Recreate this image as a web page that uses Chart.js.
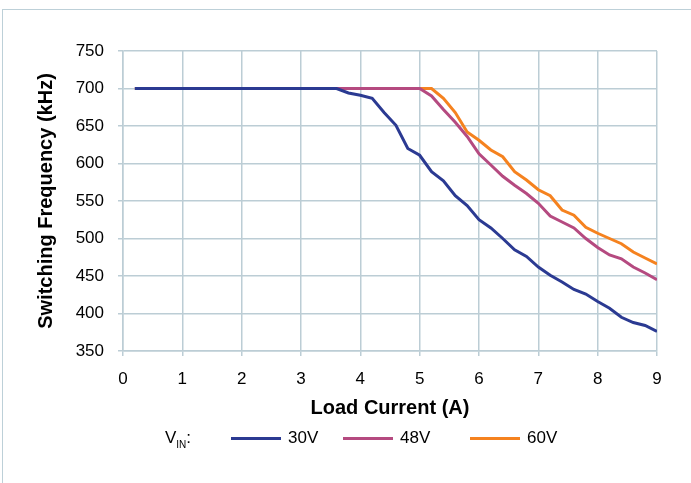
<!DOCTYPE html>
<html>
<head>
<meta charset="utf-8">
<script src="https://cdn.jsdelivr.net/npm/chart.js@4.4.1/dist/chart.umd.min.js"></script>
<style>
    html, body { margin: 0; padding: 0; background: #fff; overflow: hidden; }
    .frame { position: absolute; left: 2px; top: 9px; width: 720px; height: 520px; border: 1px solid #bdd0d8; box-sizing: border-box; }
    .chart-container { position: absolute; left: 0; top: 0; width: 691px; height: 483px; }
    .legend { position: absolute; left: 0; top: 427px; width: 691px; height: 22px; font-family: 'Liberation Sans', Arial, sans-serif; font-size: 17px; color: #000; }
    .legend span { position: absolute; top: 0; line-height: 22px; white-space: nowrap; }
    .legend i { position: absolute; top: 10px; height: 3px; width: 50px; }
    .legend sub { font-size: 10px; vertical-align: -5px; line-height: 0; }
</style>
</head>
<body>
<div class="frame"></div>
<div class="chart-container"><canvas id="chart" width="691" height="483"></canvas></div>
<div class="legend" id="legend"><span style="left:165px">V<sub>IN</sub>:</span></div>
<script>

const loadCurrent = [
    0.2, 0.4, 0.6, 0.8, 1.0, 1.2, 1.4, 1.6, 1.8, 2.0, 2.2, 2.4, 2.6, 2.8, 3.0,
    3.2, 3.4, 3.6, 3.8, 4.0, 4.2, 4.4, 4.6, 4.8, 5.0, 5.2, 5.4, 5.6, 5.8, 6.0,
    6.2, 6.4, 6.6, 6.8, 7.0, 7.2, 7.4, 7.6, 7.8, 8.0, 8.2, 8.4, 8.6, 8.8, 9.0
];

const freq30V = [
    700, 700, 700, 700, 700, 700, 700, 700, 700, 700, 700, 700, 700, 700, 700,
    700, 700, 700, 694, 691, 687, 668, 651, 620, 611, 589, 577, 557, 544, 525,
    514, 500, 485, 476, 462, 451, 442, 432, 426, 416, 407, 395, 388, 384, 376
];

const freq48V = [
    700, 700, 700, 700, 700, 700, 700, 700, 700, 700, 700, 700, 700, 700, 700,
    700, 700, 700, 700, 700, 700, 700, 700, 700, 700, 690, 672, 655, 636, 613,
    598, 583, 571, 560, 547, 530, 522, 514, 500, 488, 478, 473, 462, 454, 445
];

const freq60V = [
    700, 700, 700, 700, 700, 700, 700, 700, 700, 700, 700, 700, 700, 700, 700,
    700, 700, 700, 700, 700, 700, 700, 700, 700, 700, 700, 687, 668, 642, 631,
    618, 609, 589, 578, 565, 557, 538, 531, 515, 507, 500, 493, 482, 474, 466
];

const seriesLabels = [ '30V', '48V', '60V' ];
const xTicks = [ 0, 1, 2, 3, 4, 5, 6, 7, 8, 9 ];
const yTicks = [ 350, 400, 450, 500, 550, 600, 650, 700, 750 ];

const gridColor = '#bccdd5';

function toPoints ( values ) {
    return values.map( ( v, i ) => ( { x: loadCurrent[ i ], y: v } ) );
}

function renderFrequencyChart ( ctx ) {

    const colors = [ '#2b3a92', '#b54a80', '#f5821f' ];
    const series = [ freq30V, freq48V, freq60V ];

    const datasets = series.map( ( values, i ) => ( {
        label: seriesLabels[ i ],
        data: toPoints( values ),
        borderColor: colors[ i ],
        backgroundColor: colors[ i ],
        borderWidth: 3,
        pointRadius: 0,
        tension: 0,
        fill: false
    } ) );

    new Chart( ctx, {
        type: 'line',
        data: { datasets },
        options: {
            layout: { padding: { top: 51, right: 34, bottom: 0, left: 0 } },
            plugins: {
                legend: { display: false },
                tooltip: { enabled: false }
            },
            scales: {
                x: {
                    type: 'linear',
                    min: xTicks[ 0 ],
                    max: xTicks[ xTicks.length - 1 ],
                    afterBuildTicks: s => { s.ticks = xTicks.map( v => ( { value: v } ) ); },
                    afterFit: s => { s.height = 132; },
                    ticks: { padding: 13, font: { size: 17 }, color: '#000' },
                    grid: { color: gridColor, lineWidth: 1.5, tickLength: 5 },
                    border: { color: gridColor, width: 1.5 },
                    title: {
                        display: true,
                        text: 'Load Current (A)',
                        font: { size: 20, weight: 'bold' },
                        color: '#000',
                        padding: { top: 0, bottom: 63 }
                    }
                },
                y: {
                    min: yTicks[ 0 ],
                    max: yTicks[ yTicks.length - 1 ],
                    afterBuildTicks: s => { s.ticks = yTicks.map( v => ( { value: v } ) ); },
                    afterFit: s => { s.width = 123; },
                    ticks: { padding: 14, font: { size: 17 }, color: '#000' },
                    grid: { color: gridColor, lineWidth: 1.5, tickLength: 5 },
                    border: { color: gridColor, width: 1.5 },
                    title: {
                        display: true,
                        text: 'Switching Frequency (kHz)',
                        font: { size: 20, weight: 'bold' },
                        color: '#000',
                        padding: { top: 34, bottom: 0 }
                    }
                }
            }
        }
    } );

    // legend below the axis title, built from the datasets
    const legend = document.getElementById( 'legend' );
    const lineLeft = [ 231, 343, 470 ];
    datasets.forEach( ( ds, i ) => {
        const sample = document.createElement( 'i' );
        sample.style.left = lineLeft[ i ] + 'px';
        sample.style.background = ds.borderColor;
        legend.appendChild( sample );
        const text = document.createElement( 'span' );
        text.style.left = ( lineLeft[ i ] + 57 ) + 'px';
        text.textContent = ds.label;
        legend.appendChild( text );
    } );

}

document.addEventListener( 'DOMContentLoaded', function () {

    Chart.defaults.responsive = false;
    Chart.defaults.animation = false;
    Chart.defaults.font.family = "'Liberation Sans', Arial, sans-serif";
    Chart.defaults.color = '#000';

    renderFrequencyChart( document.getElementById( 'chart' ) );

} );

</script>
</body>
</html>
